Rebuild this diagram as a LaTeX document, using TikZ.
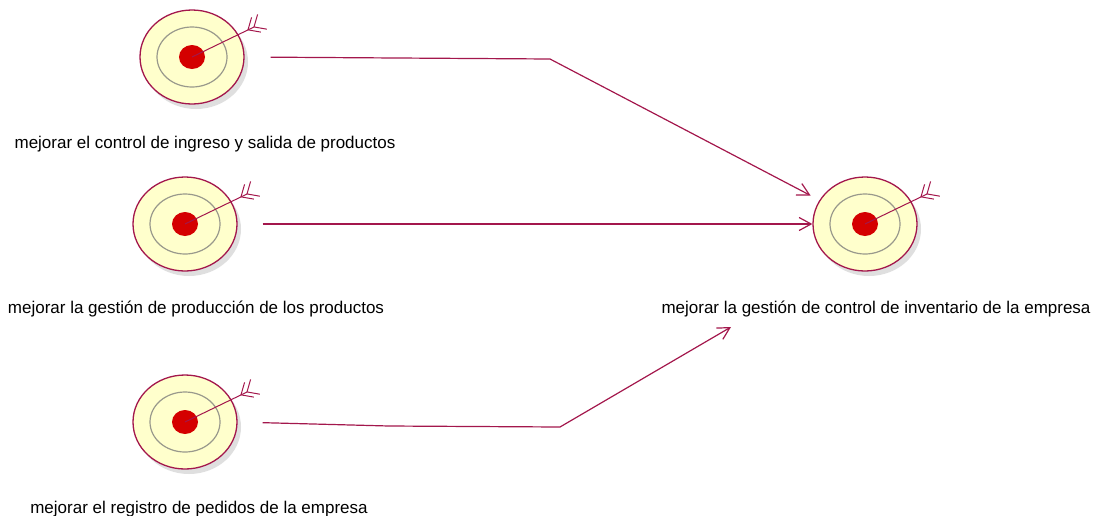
\documentclass[tikz,border=0pt]{standalone}
\usepackage{fontspec}
\setmainfont{Liberation Sans}
\usepackage{tikz}
\usetikzlibrary{arrows.meta}
\usetikzlibrary{shapes.geometric}
\usetikzlibrary{shadows}
\usetikzlibrary{positioning}
\definecolor{mred}{rgb}{0.64, 0.09, 0.30}
\definecolor{gyellow}{rgb}{1.0, 1.0, 0.80}
\definecolor{ggray}{rgb}{0.60, 0.60, 0.55}
\definecolor{bred}{rgb}{0.83, 0.0, 0.0}
\tikzset{goal/.style = {ellipse, draw = mred, fill = gyellow, line width = 1.3pt,
                        minimum width = 104, minimum height = 94, inner sep = 0,
                        drop shadow = {shadow xshift = 4pt, shadow yshift = -5pt,
                                       fill = black!25}}}
\tikzset{ring/.style = {draw = ggray, line width = 1.2pt}}
\tikzset{bull/.style = {fill = bred}}
\tikzset{shaft/.style = {draw = mred, line width = 1pt}}
\tikzset{flow/.style = {draw = mred, line width = 1.2pt,
                        -{Straight Barb[length = 12pt, width = 13pt]}}}
\tikzset{lbl/.style = {anchor = base, inner sep = 0,
                       font = \fontsize{17}{19}\selectfont}}

\begin{document}
\begin{tikzpicture}[x = 1pt, y = -1pt]
    \useasboundingbox (0, 0) rectangle (1097, 515);

    \foreach \n/\x/\y in {g1/192/57, g2/185/224, g3/185/422, g4/865/224} {
      \node [goal] (\n) at (\x, \y) {};
      \draw [ring] (\x, \y) ellipse [x radius = 35, y radius = 30];
      \fill [bull] (\x, \y) ellipse [x radius = 13, y radius = 12];
      \draw [shaft] (\x, \y) -- ++(62, -30);
      \foreach \d in {56, 62}
        \draw [shaft] (\x, \y) ++(\d, -\d * 0.485) coordinate (f)
          ++(-74 : 13) -- (f) -- ++(10 : 13);
    }

    \node [lbl] (t1) at (205, 148) {mejorar el control de ingreso y salida de productos};
    \node [lbl] (t2) at (196, 313) {mejorar la gestión de producción de los productos};
    \node [lbl] (t3) at (199, 513) {mejorar el registro de pedidos de la empresa};
    \node [lbl] (t4) at (876, 313) {mejorar la gestión de control de inventario de la empresa};

    \coordinate (b1) at (550, 59);
    \coordinate (b3) at (389, 426);
    \coordinate (c3) at (560, 427);
    \coordinate (e3) at (731, 327);

    \draw [flow, shorten <= 26pt, shorten >= 10pt] (g1.east) -- (b1) -- (g4);
    \draw [flow, shorten <= 25pt] (g2.east) -- (g4.west);
    \draw [flow, shorten <= 25pt] (g3.east) -- (b3) -- (c3) -- (e3);
  \end{tikzpicture}
\end{document}
